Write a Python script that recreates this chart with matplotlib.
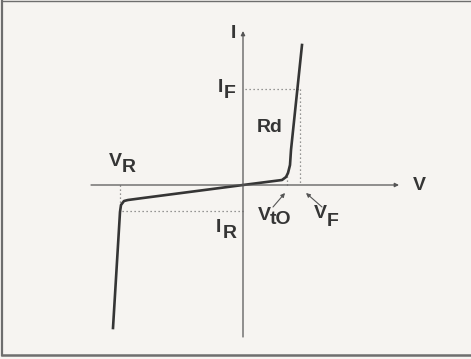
import matplotlib.pyplot as plt
from matplotlib.lines import Line2D

# diode I-V characteristic (arbitrary units, origin at 0,0)
curve_v = [-130, -123, -122, -119, -115, -100, 0, 39, 43, 45, 47, 48, 59]
curve_i = [-143, -27, -20, -16, -15, -13, 0, 5, 8, 12, 20, 35, 140]

VF, IF = 56, 96
VT0 = 44
VR, IR = -123, -26

ink = '#353535'
bg = '#f6f4f1'
fnt = dict(family=['Liberation Sans', 'DejaVu Sans'], fontsize=14,
           fontweight='bold', color=ink, ha='center', va='center')

fig = plt.figure(figsize=(4.71, 3.59), dpi=100, facecolor=bg)
ax = fig.add_axes([0, 0, 1, 1])
ax.set_facecolor(bg)
ax.set_xlim(-243, 228)
ax.set_ylim(-174, 185)
ax.axis('off')

# axes with arrows
ax.annotate('', xy=(156, 0), xytext=(-152, 0),
            arrowprops=dict(arrowstyle='-|>', color='#555555', lw=0.9,
                            mutation_scale=6, shrinkA=0, shrinkB=0))
ax.annotate('', xy=(0, 154), xytext=(0, -152),
            arrowprops=dict(arrowstyle='-|>', color='#555555', lw=0.9,
                            mutation_scale=6, shrinkA=0, shrinkB=0))

# dotted guides
dot = dict(color='#777777', lw=0.9, ls=(0, (1, 2.2)))
ax.plot([2, VF], [IF, IF], **dot)
ax.plot([VF + 1, VF + 1], [IF, 0], **dot)
ax.plot([VT0, VT0], [13, 0], **dot)
ax.plot([VR + 2, 0], [IR, IR], **dot)
ax.plot([VR, VR], [0, IR + 6], **dot)

# curve
ax.plot(curve_v, curve_i, color=ink, lw=1.9, solid_joinstyle='round')

# labels
ax.text(-10, 152, 'I', **fnt)
ax.text(-23, 97, 'I', **fnt)
ax.text(-13, 91, 'F', **fnt)
ax.text(27, 58, 'Rd', **fnt)
ax.text(-128, 24, 'V', **fnt)
ax.text(-114, 18, 'R', **fnt)
ax.text(176, -1, 'V', **fnt)
ax.text(-25, -43, 'I', **fnt)
ax.text(-13, -49, 'R', **fnt)
ax.text(21, -30, 'V', **fnt)
ax.text(38, -35, 'tO', **fnt)
ax.text(77, -29, 'V', **fnt)
ax.text(90, -36, 'F', **fnt)

arr = dict(arrowstyle='-|>', color='#555555', lw=0.8, mutation_scale=6,
           shrinkA=0, shrinkB=0)
ax.annotate('', xy=(42, -8), xytext=(30, -22), arrowprops=arr)
ax.annotate('', xy=(63, -8), xytext=(79, -22), arrowprops=arr)

# frame on left, top and bottom
fc = '#6e6e6e'
fig.add_artist(Line2D([0.005, 0.005], [0.012, 0.997], transform=fig.transFigure, color=fc, lw=1.6))
fig.add_artist(Line2D([0.005, 1.0], [0.997, 0.997], transform=fig.transFigure, color=fc, lw=1.0))
fig.add_artist(Line2D([0.005, 1.0], [0.012, 0.012], transform=fig.transFigure, color=fc, lw=1.8))

fig.savefig('out.png', dpi=100, facecolor=bg)
